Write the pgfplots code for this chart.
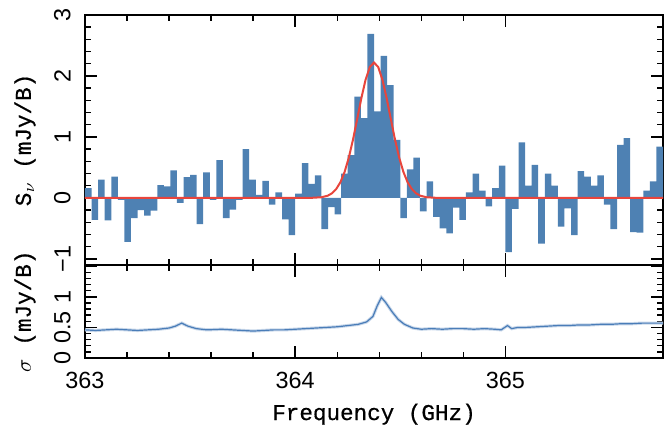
\documentclass[border=0pt]{standalone}
\usepackage{fontspec}
\setmainfont{Liberation Sans}
\newfontfamily\labfont[FakeBold=0.6]{Liberation Mono}
\usepackage{pgfplots}
\pgfplotsset{compat=1.18}
\definecolor{barblue}{HTML}{4E81B3}
\definecolor{fitred}{HTML}{E8453C}
\definecolor{sigblue}{HTML}{4A7DB8}
\pgfplotsset{
  specaxis/.style={scale only axis, width=289pt, xmin=363, xmax=365.75,
    xtick={363,364,365}, minor x tick num=4,
    axis line style={line width=0.8pt}, tick style={line width=0.7pt,black},
    major tick length=6pt, minor tick length=3pt,
    every tick label/.append style={font=\fontsize{11.7}{14}\selectfont},
    yticklabel style={rotate=90, anchor=south, inner ysep=7pt},
    label style={font=\labfont\fontsize{11.3}{13}\selectfont},
    ylabel style={at={(axis description cs:-0.1038,0.5)}, anchor=center},
  }
}
\begin{document}
\begin{tikzpicture}
\begin{axis}[specaxis, name=top, height=125pt, ymin=-1.1, ymax=3,
  ytick={-1,0,1,2,3}, yticklabels={−1,0,1,2,3}, minor y tick num=4,
  xticklabels={}, ylabel={S$_\nu$ (mJy/B)}]
% channel fluxes, left edge of each channel
\addplot[const plot mark left, fill=barblue, draw=none] coordinates {
 (363.00000,0.16) (363.03125,-0.36) (363.06250,0.30) (363.09375,-0.37)
 (363.12500,0.35) (363.15625,-0.03) (363.18750,-0.72) (363.21875,-0.33)
 (363.25000,-0.20) (363.28125,-0.29) (363.31250,-0.21) (363.34375,0.21)
 (363.37500,0.19) (363.40625,0.45) (363.43750,-0.08) (363.46875,0.34)
 (363.50000,0.38) (363.53125,-0.43) (363.56250,0.42) (363.59375,-0.03)
 (363.62500,0.62) (363.65625,-0.33) (363.68750,-0.19) (363.71875,-0.03)
 (363.75000,0.80) (363.78125,0.30) (363.81250,0.05) (363.84375,0.28)
 (363.87500,-0.11) (363.90625,0.09) (363.93750,-0.35) (363.96875,-0.61)
 (364.00000,0.07) (364.03125,0.57) (364.06250,0.23) (364.09375,0.37)
 (364.12500,-0.51) (364.15625,-0.15) (364.18750,-0.27) (364.21875,0.40)
 (364.25000,0.70) (364.28125,1.66) (364.31250,1.31) (364.34375,2.69)
 (364.37500,1.42) (364.40625,2.33) (364.43750,1.85) (364.46875,0.95)
 (364.50000,-0.33) (364.53125,0.47) (364.56250,0.66) (364.59375,-0.22)
 (364.62500,0.27) (364.65625,-0.31) (364.68750,-0.50) (364.71875,-0.58)
 (364.75000,-0.16) (364.78125,-0.36) (364.81250,0.09) (364.84375,0.40)
 (364.87500,0.12) (364.90625,-0.14) (364.93750,0.16) (364.96875,0.53)
 (365.00000,-0.89) (365.03125,-0.18) (365.06250,0.91) (365.09375,0.20)
 (365.12500,0.54) (365.15625,-0.75) (365.18750,0.40) (365.21875,0.20)
 (365.25000,-0.47) (365.28125,-0.17) (365.31250,-0.61) (365.34375,0.44)
 (365.37500,0.35) (365.40625,0.20) (365.43750,0.37) (365.46875,-0.11)
 (365.50000,-0.51) (365.53125,0.87) (365.56250,0.98) (365.59375,-0.56)
 (365.62500,-0.57) (365.65625,0.12) (365.68750,0.27) (365.71875,0.84)
 (365.75000,0.84)} \closedcycle;
% gaussian fit
\addplot[fitred, line width=1pt] coordinates {
 (363.0,0) (364.0,0) (364.075,0.001) (364.125,0.011) (364.155,0.037)
 (364.175,0.076) (364.195,0.145) (364.215,0.256) (364.235,0.425)
 (364.255,0.659) (364.275,0.955) (364.295,1.294) (364.315,1.638)
 (364.335,1.940) (364.355,2.147) (364.375,2.220) (364.395,2.147)
 (364.415,1.940) (364.435,1.638) (364.455,1.294) (364.475,0.955)
 (364.495,0.659) (364.515,0.425) (364.535,0.256) (364.555,0.145)
 (364.575,0.076) (364.595,0.037) (364.625,0.011) (364.675,0.001)
 (364.75,0) (365.75,0)};
\end{axis}
\begin{axis}[specaxis, name=bot, at={(top.south west)}, anchor=north west,
  height=46.5pt, ymin=0, ymax=1.52,
  ytick={0,0.5,1,1.5}, yticklabels={0,0.5,1,}, minor y tick num=4,
  xticklabels={363,364,365}, xticklabel style={inner ysep=6.8pt},
  xlabel={Frequency (GHz)},
  xlabel style={at={(axis description cs:0.5,-0.667)}, anchor=base},
  ylabel={$\sigma$ (mJy/B)}]
\pgfplotstableread{
f s
363.00 0.46
363.05 0.45
363.10 0.46
363.15 0.47
363.20 0.46
363.25 0.45
363.30 0.46
363.35 0.47
363.40 0.49
363.43 0.52
363.46 0.57
363.49 0.52
363.53 0.48
363.58 0.46
363.65 0.47
363.70 0.46
363.75 0.45
363.80 0.44
363.85 0.45
363.90 0.46
363.95 0.46
364.00 0.47
364.05 0.48
364.10 0.49
364.15 0.50
364.20 0.51
364.25 0.53
364.30 0.55
364.34 0.59
364.37 0.68
364.39 0.85
364.41 0.99
364.43 0.91
364.46 0.76
364.49 0.63
364.52 0.55
364.56 0.49
364.60 0.47
364.65 0.48
364.70 0.47
364.75 0.48
364.80 0.48
364.85 0.47
364.90 0.48
364.95 0.47
364.98 0.46
365.01 0.53
365.03 0.48
365.06 0.50
365.10 0.50
365.15 0.51
365.20 0.52
365.25 0.53
365.30 0.53
365.35 0.54
365.40 0.54
365.45 0.55
365.50 0.55
365.55 0.56
365.60 0.56
365.65 0.57
365.70 0.57
365.75 0.57
}\sigtab
\addplot[sigblue!30, line width=1.6pt] table[x=f,y=s] {\sigtab};
\addplot[sigblue, line width=0.6pt] table[x=f,y=s] {\sigtab};
\end{axis}
\pgfresetboundingbox
\path[use as bounding box] ([shift={(-42.5pt,7.5pt)}]top.north west)
  rectangle ([shift={(0.5pt,-34.5pt)}]bot.south east);
\end{tikzpicture}
\end{document}
